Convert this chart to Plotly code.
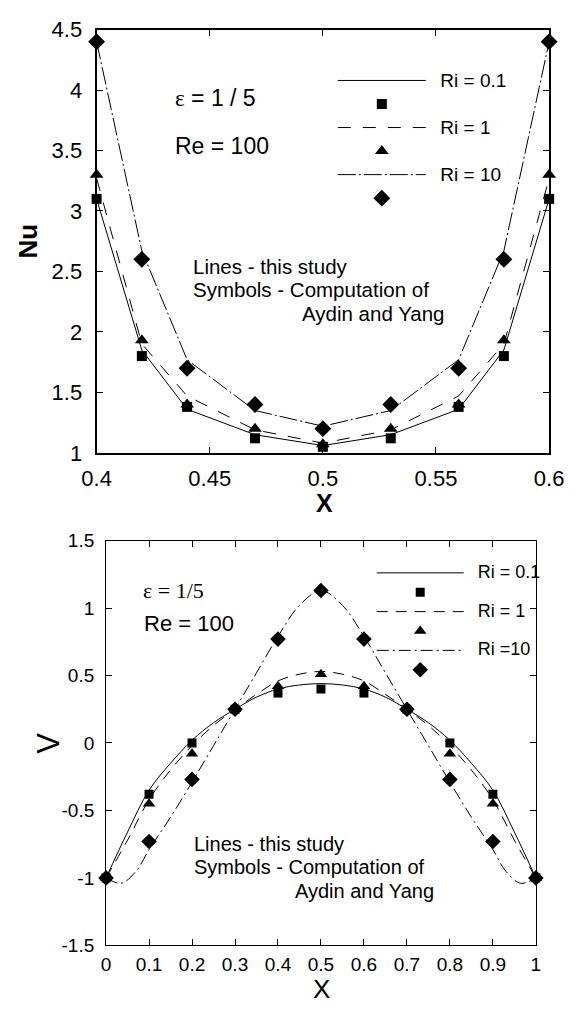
import plotly.graph_objects as go

W, H = 585, 1012
SANS = "Liberation Sans, Arial, sans-serif"

# ---------------- Top chart: Nu vs X ----------------
nu_x = [0.40, 0.42, 0.44, 0.47, 0.50, 0.53, 0.56, 0.58, 0.60]
nu_line_ri01 = [3.10, 1.85, 1.36, 1.15, 1.06, 1.15, 1.36, 1.85, 3.10]
nu_line_ri1 = [3.27, 1.90, 1.47, 1.19, 1.08, 1.19, 1.47, 1.90, 3.27]
nu_line_ri10 = [4.40, 2.67, 1.77, 1.35, 1.22, 1.35, 1.77, 2.67, 4.40]
nu_sym_ri01 = [3.10, 1.80, 1.38, 1.12, 1.05, 1.12, 1.38, 1.80, 3.10]
nu_sym_ri1 = [3.30, 1.93, 1.40, 1.20, 1.07, 1.20, 1.40, 1.93, 3.30]
nu_sym_ri10 = [4.40, 2.60, 1.70, 1.40, 1.20, 1.40, 1.70, 2.60, 4.40]
nu_xticks = [0.40, 0.45, 0.50, 0.55, 0.60]
nu_xticklabels = ["0.4", "0.45", "0.5", "0.55", "0.6"]
nu_yticks = [1, 1.5, 2, 2.5, 3, 3.5, 4, 4.5]
nu_yticklabels = ["1", "1.5", "2", "2.5", "3", "3.5", "4", "4.5"]

# ---------------- Bottom chart: V vs X ----------------
v_sym_x = [0.0, 0.1, 0.2, 0.3, 0.4, 0.5, 0.6, 0.7, 0.8, 0.9, 1.0]
v_sym_ri01 = [-1.0, -0.38, 0.0, 0.25, 0.37, 0.40, 0.37, 0.25, 0.0, -0.38, -1.0]
v_sym_ri1 = [-1.0, -0.45, -0.08, 0.25, 0.42, 0.51, 0.42, 0.25, -0.08, -0.45, -1.0]
v_sym_ri10 = [-1.0, -0.73, -0.27, 0.25, 0.77, 1.13, 0.77, 0.25, -0.27, -0.73, -1.0]
v_line_x = [0.0, 0.05, 0.1, 0.15, 0.2, 0.25, 0.3, 0.35, 0.4, 0.45, 0.5,
            0.55, 0.6, 0.65, 0.7, 0.75, 0.8, 0.85, 0.9, 0.95, 1.0]
v_line_ri01 = [-1.0, -0.66, -0.35, -0.15, 0.02, 0.15, 0.25, 0.34, 0.40, 0.43, 0.44,
               0.43, 0.40, 0.34, 0.25, 0.15, 0.02, -0.15, -0.35, -0.66, -1.0]
v_line_ri1 = [-1.0, -0.72, -0.42, -0.20, -0.02, 0.13, 0.25, 0.36, 0.46, 0.51, 0.53,
              0.51, 0.46, 0.36, 0.25, 0.13, -0.02, -0.20, -0.42, -0.72, -1.0]
v_line_ri10_x = [0.0, 0.035, 0.07, 0.1, 0.15, 0.2, 0.25, 0.3, 0.35, 0.4, 0.45, 0.5,
                 0.55, 0.6, 0.65, 0.7, 0.75, 0.8, 0.85, 0.9, 0.93, 0.965, 1.0]
v_line_ri10 = [-1.0, -1.04, -0.95, -0.79, -0.55, -0.29, -0.02, 0.25, 0.52, 0.79, 1.02, 1.13,
               1.02, 0.79, 0.52, 0.25, -0.02, -0.29, -0.55, -0.79, -0.95, -1.04, -1.0]
v_xticks = [0.0, 0.1, 0.2, 0.3, 0.4, 0.5, 0.6, 0.7, 0.8, 0.9, 1.0]
v_xticklabels = ["0", "0.1", "0.2", "0.3", "0.4", "0.5", "0.6", "0.7", "0.8", "0.9", "1"]
v_yticks = [-1.5, -1.0, -0.5, 0.0, 0.5, 1.0, 1.5]
v_yticklabels = ["-1.5", "-1", "-0.5", "0", "0.5", "1", "1.5"]

series_names = ["Ri = 0.1", "Ri = 1", "Ri = 10"]
series_names_bottom = ["Ri = 0.1", "Ri = 1", "Ri =10"]


def px_x(p):
    return p / W


def px_y(p):
    return 1 - p / H


fig = go.Figure()

# top chart traces
top_lines = [nu_line_ri01, nu_line_ri1, nu_line_ri10]
top_syms = [nu_sym_ri01, nu_sym_ri1, nu_sym_ri10]
top_dash = ["solid", "13px,12px", "18px,3px,2px,3px"]
sym_kind = ["square", "triangle-up", "diamond"]
sym_size_top = [10, 12, 13]
for i in range(3):
    fig.add_trace(go.Scatter(
        x=nu_x, y=top_lines[i], mode="lines", xaxis="x", yaxis="y",
        line=dict(color="black", width=1, dash=top_dash[i]),
        name="<span style='font-size:19px'>\u2002" + series_names[i] + "</span>",
        legend="legend", cliponaxis=False, hoverinfo="skip"))
    fig.add_trace(go.Scatter(
        x=nu_x, y=top_syms[i], mode="markers", xaxis="x", yaxis="y",
        marker=dict(symbol=sym_kind[i], size=sym_size_top[i], color="black"),
        name=" ", legend="legend", cliponaxis=False, hoverinfo="skip"))

# bottom chart traces
bot_lines_x = [v_line_x, v_line_x, v_line_ri10_x]
bot_lines = [v_line_ri01, v_line_ri1, v_line_ri10]
bot_syms = [v_sym_ri01, v_sym_ri1, v_sym_ri10]
bot_dash = ["solid", "11px,8px", "12px,4px,2px,4px"]
sym_size_bot = [9, 11, 12]
for i in range(3):
    fig.add_trace(go.Scatter(
        x=bot_lines_x[i], y=bot_lines[i], mode="lines", xaxis="x2", yaxis="y2",
        line=dict(color="black", width=1, dash=bot_dash[i], shape="spline", smoothing=1),
        name="<span style='font-size:18px'>\u2002" + series_names_bottom[i] + "</span>",
        legend="legend2", cliponaxis=False, hoverinfo="skip"))
    fig.add_trace(go.Scatter(
        x=v_sym_x, y=bot_syms[i], mode="markers", xaxis="x2", yaxis="y2",
        marker=dict(symbol=sym_kind[i], size=sym_size_bot[i], color="black"),
        name=" ", legend="legend2", cliponaxis=False, hoverinfo="skip"))

common_axis = dict(showgrid=False, zeroline=False, showline=True, linecolor="black",
                   ticks="inside", mirror="ticks", tickcolor="black", fixedrange=True)

fig.update_layout(
    width=W, height=H,
    margin=dict(l=0, r=0, t=0, b=0),
    paper_bgcolor="white", plot_bgcolor="white",
    font=dict(family=SANS, color="black"),
    xaxis=dict(common_axis, domain=[px_x(86), px_x(563)], range=[0.4, 0.6], anchor="y",
               tickvals=nu_xticks, ticktext=nu_xticklabels, linewidth=2, ticklen=6, tickwidth=1,
               tickfont=dict(size=22, family=SANS), ticklabelstandoff=5),
    yaxis=dict(common_axis, domain=[px_y(452), px_y(18)], range=[1, 4.5], anchor="x",
               tickvals=nu_yticks, ticktext=nu_yticklabels, linewidth=2, ticklen=6, tickwidth=1,
               tickfont=dict(size=22, family=SANS), ticklabelstandoff=8),
    xaxis2=dict(common_axis, domain=[px_x(96), px_x(549)], range=[0, 1], anchor="y2",
                tickvals=v_xticks, ticktext=v_xticklabels, linewidth=1, ticklen=6, tickwidth=1,
                tickfont=dict(size=19, family=SANS), ticklabelstandoff=2),
    yaxis2=dict(common_axis, domain=[px_y(957), px_y(542)], range=[-1.5, 1.5], anchor="x2",
                tickvals=v_yticks, ticktext=v_yticklabels, linewidth=1, ticklen=6, tickwidth=1,
                tickfont=dict(size=19, family=SANS), ticklabelstandoff=7),
    legend=dict(x=px_x(335), y=px_y(53), xanchor="left", yanchor="top",
                font=dict(size=15.8, family=SANS), itemwidth=88, tracegroupgap=0,
                bgcolor="rgba(0,0,0,0)", borderwidth=0, traceorder="normal"),
    legend2=dict(x=px_x(376), y=px_y(560), xanchor="left", yanchor="top",
                 font=dict(size=12.6, family=SANS), itemwidth=87, tracegroupgap=0,
                 bgcolor="rgba(0,0,0,0)", borderwidth=0, traceorder="normal"),
)

anns = [
    # top chart texts
    ("<span style='font-family:Liberation Serif'>ε</span> = 1 / 5", 167, 88, 23, "left", 0),
    ("Re = 100", 167, 137, 23, "left", 0),
    ("Lines - this study", 186, 261, 20.5, "left", 0),
    ("Symbols - Computation of", 186, 285, 20.5, "left", 0),
    ("Aydin and Yang", 300, 309, 20.5, "left", 0),
    ("<b>Nu</b>", 14, 235, 26, "center", -90),
    ("<b>X</b>", 326, 503, 25, "center", 0),
    # bottom chart texts
    ("<span style='font-family:Liberation Serif'>ε = 1/5</span>", 133, 593, 22, "left", 0),
    ("Re = 100", 134, 627, 22, "left", 0),
    ("Lines - this study", 187, 853, 20, "left", 0),
    ("Symbols - Computation of", 187, 877, 20, "left", 0),
    ("Aydin and Yang", 293, 901, 20, "left", 0),
    ("V", 35, 750, 31, "center", -90),
    ("X", 323, 1002, 26, "center", 0),
]
for text, x, y, size, xa, ang in anns:
    fig.add_annotation(text=text, x=px_x(x), y=px_y(y), xref="paper", yref="paper",
                       xanchor=xa, yanchor="middle", showarrow=False, textangle=ang,
                       font=dict(size=size, family=SANS, color="black"))

fig.write_html("out.html")
